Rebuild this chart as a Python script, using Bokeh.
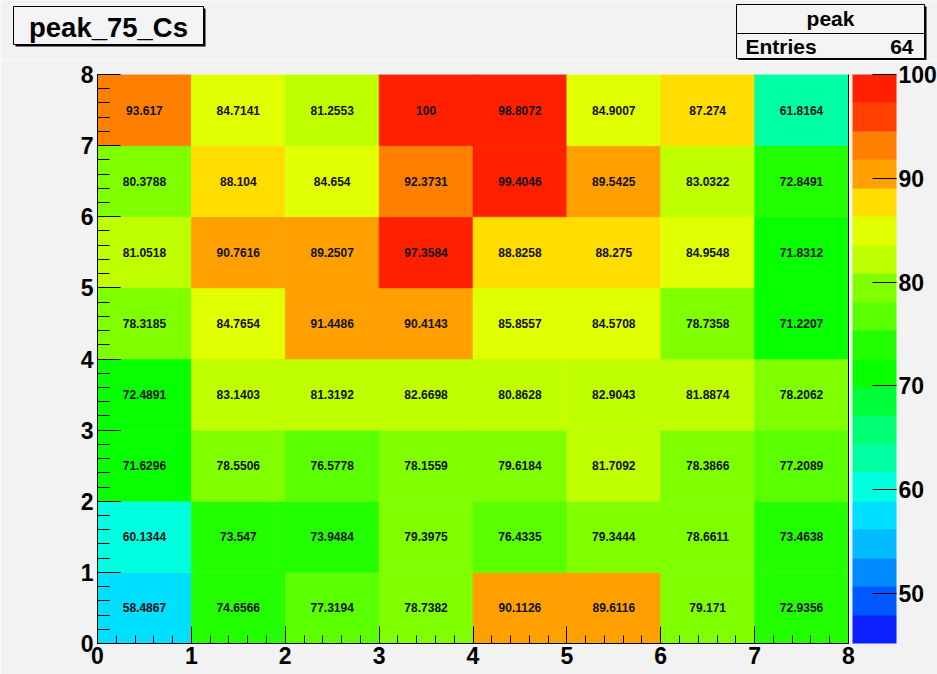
from bokeh.plotting import figure
from bokeh.layouts import column
from bokeh.models import (LinearColorMapper, ColorBar, FixedTicker, SingleIntervalTicker,
                          LinearAxis, ColumnDataSource, Range1d)
from bokeh.transform import transform
from bokeh.core.properties import value
from bokeh.embed import file_html
from bokeh.resources import INLINE

# ---------------- data ----------------
hist_title = "peak_75_Cs"
stats_title = "peak"
entries_label = "Entries"
entries = 64

x_bin_low = [0, 1, 2, 3, 4, 5, 6, 7]
y_bin_low = [0, 1, 2, 3, 4, 5, 6, 7]
# bin contents, one list per y bin (y = 0 ... 7), x bins left to right
row_y0 = [58.4867, 74.6566, 77.3194, 78.7382, 90.1126, 89.6116, 79.171, 72.9356]
row_y1 = [60.1344, 73.547, 73.9484, 79.3975, 76.4335, 79.3444, 78.6611, 73.4638]
row_y2 = [71.6296, 78.5506, 76.5778, 78.1559, 79.6184, 81.7092, 78.3866, 77.2089]
row_y3 = [72.4891, 83.1403, 81.3192, 82.6698, 80.8628, 82.9043, 81.8874, 78.2062]
row_y4 = [78.3185, 84.7654, 91.4486, 90.4143, 85.8557, 84.5708, 78.7358, 71.2207]
row_y5 = [81.0518, 90.7616, 89.2507, 97.3584, 88.8258, 88.275, 84.9548, 71.8312]
row_y6 = [80.3788, 88.104, 84.654, 92.3731, 99.4046, 89.5425, 83.0322, 72.8491]
row_y7 = [93.617, 84.7141, 81.2553, 100, 98.8072, 84.9007, 87.274, 61.8164]
rows = [row_y0, row_y1, row_y2, row_y3, row_y4, row_y5, row_y6, row_y7]

z_ticks = [50, 60, 70, 80, 90, 100]
z_min = 45.2
z_max = 100.0
palette = ["#0a20ff", "#0058ff", "#008cff", "#00bcff", "#00dfff",
           "#00ffe0", "#00ffa2", "#00ff72", "#00ff3a", "#08ff00",
           "#24ff00", "#5aff00", "#80ff00", "#bfff00", "#e0ff00",
           "#ffdd00", "#ffa000", "#ff8000", "#ff4000", "#ff2000"]

# ---------------- build ----------------
xs, ys, zs, labels = [], [], [], []
for yb, row in zip(y_bin_low, rows):
    for xb, z in zip(x_bin_low, row):
        xs.append(xb + 0.5)
        ys.append(yb + 0.5)
        zs.append(z)
        labels.append("%g" % z)
src = ColumnDataSource(dict(x=xs, y=ys, z=zs, label=labels))

mapper = LinearColorMapper(palette=palette, low=z_min, high=z_max)

FONT = "Liberation Sans"
BG = "#f2f2f2"
BOX = "#f4f4f4"

# ---------------- header strip (title pave + stats pave) ----------------
W, HH = 937, 60
h = figure(frame_width=W, frame_height=HH, output_backend="svg", toolbar_location=None,
           title=None, x_range=Range1d(0, W), y_range=Range1d(0, HH),
           x_axis_type=None, y_axis_type=None,
           min_border=0, min_border_left=0, min_border_right=0,
           min_border_top=0, min_border_bottom=0)
h.border_fill_color = BG
h.background_fill_color = BG
h.outline_line_color = None
h.grid.visible = False


def fy(y):
    # header positions are given from the top of the strip
    return HH - y


# shadows
h.quad(left=[15, 738], right=[205, 926], top=[fy(8), fy(6)], bottom=[fy(46), fy(60)],
       fill_color="black", line_color=None)
# boxes
h.quad(left=[13, 736], right=[203, 924], top=[fy(6), fy(4)], bottom=[fy(44), fy(58)],
       fill_color=BOX, line_color="black", line_width=1)
h.segment(x0=[736], y0=[fy(33)], x1=[924], y1=[fy(33)], line_color="black", line_width=1)

h.text(x=[108], y=[fy(27)], text=[hist_title], text_align="center", text_baseline="middle",
       text_font=value(FONT), text_font_style="bold", text_font_size="27.5px",
       text_color="black")
h.text(x=[830], y=[fy(18)], text=[stats_title], text_align="center", text_baseline="middle",
       text_font=value(FONT), text_font_style="bold", text_font_size="21px",
       text_color="black")
h.text(x=[745], y=[fy(46)], text=[entries_label], text_align="left", text_baseline="middle",
       text_font=value(FONT), text_font_style="bold", text_font_size="21px",
       text_color="black")
h.text(x=[913], y=[fy(46)], text=[str(entries)], text_align="right", text_baseline="middle",
       text_font=value(FONT), text_font_style="bold", text_font_size="21px",
       text_color="black")

# ---------------- main 2D histogram ----------------
p = figure(width=W, height=674 - HH, output_backend="svg", toolbar_location=None, title=None,
           x_range=Range1d(0, 8), y_range=Range1d(0, 8),
           min_border_left=97, min_border_right=89, min_border_top=74 - HH,
           min_border_bottom=31)
p.border_fill_color = BG
p.background_fill_color = BG
p.outline_line_color = None
p.grid.visible = False

for fig in (h, p):
    if "frame_align" in fig.properties():
        fig.frame_align = False

p.rect(x="x", y="y", width=1, height=1, source=src,
       fill_color=transform("z", mapper), line_color=transform("z", mapper), line_width=0.6)
p.text(x="x", y="y", text="label", source=src, text_align="center", text_baseline="middle",
       text_font=value(FONT), text_font_style="bold", text_font_size="12px", text_color="#111111")

for ax in (p.xaxis[0], p.yaxis[0]):
    ax.ticker = SingleIntervalTicker(interval=1, num_minor_ticks=5)
    ax.axis_line_color = "black"
    ax.major_tick_line_color = "black"
    ax.minor_tick_line_color = "black"
    ax.major_tick_out = 0
    ax.minor_tick_out = 0
    ax.major_label_text_font = FONT
    ax.major_label_text_font_style = "bold"
    ax.major_label_text_font_size = "23px"
    ax.major_label_text_color = "black"
p.xaxis.major_tick_in = 17
p.xaxis.minor_tick_in = 8
p.xaxis.major_label_standoff = 3
p.yaxis.major_tick_in = 23
p.yaxis.minor_tick_in = 12
p.yaxis.major_label_standoff = 4

raxis = LinearAxis(ticker=FixedTicker(ticks=[]), axis_line_color="black",
                   major_tick_line_color=None, minor_tick_line_color=None,
                   major_label_text_font_size="0px")
p.add_layout(raxis, "right")

cb = ColorBar(color_mapper=mapper, ticker=FixedTicker(ticks=z_ticks), location=(755, 0),
              width=44, height=569, margin=0, padding=0, label_standoff=2,
              major_label_text_font=FONT, major_label_text_font_style="bold",
              major_label_text_font_size="23px", major_label_text_color="black",
              major_tick_in=24, major_tick_out=0, major_tick_line_color="black",
              minor_tick_line_color=None, bar_line_color=None,
              background_fill_alpha=0, border_line_color=None)
p.add_layout(cb)

page = column(h, p, spacing=0)
open("out.html", "w").write(file_html(page, INLINE))
